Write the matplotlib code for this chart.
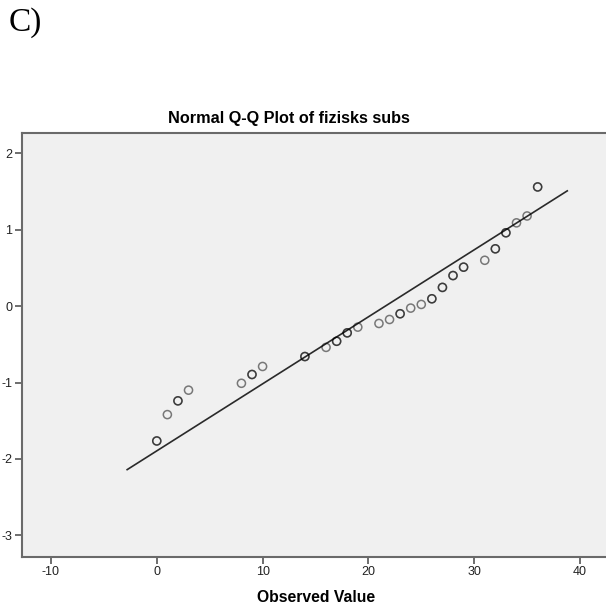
import numpy as np
import matplotlib
matplotlib.use("Agg")
import matplotlib.pyplot as plt

plt.rcParams["font.family"] = ["Liberation Sans", "DejaVu Sans"]
plt.rcParams["axes.unicode_minus"] = False

# observed scores, their expected normal values, and how many cases share each score
observed = [0, 1, 2, 3, 8, 9, 10, 14, 16, 17, 18, 19, 21, 22, 23, 24, 25, 26, 27, 28, 29, 31, 32, 33, 34, 35, 36]
expected = [-1.765, -1.42, -1.24, -1.10, -1.01, -0.895, -0.79, -0.66, -0.54, -0.46, -0.35, -0.275, -0.227,
            -0.175, -0.10, -0.026, 0.022, 0.096, 0.245, 0.40, 0.51, 0.60, 0.75, 0.96, 1.09, 1.18, 1.56]
counts = [2, 1, 2, 1, 1, 2, 1, 2, 1, 2, 2, 1, 1, 1, 2, 1, 1, 2, 2, 2, 2, 1, 2, 2, 1, 1, 2]

# reference line: standardised normal with the sample mean / sd
line_mean, line_sd = 21.6, 11.4
line_x = [-2.8, 38.8]

xticks = [-10, 0, 10, 20, 30, 40]
yticks = [-3, -2, -1, 0, 1, 2]

W, H = 606, 608
fig = plt.figure(figsize=(W / 100, H / 100), dpi=100)
fig.patch.set_facecolor("white")
ax = fig.add_axes([22 / W, 1 - 556.7 / H, (W - 22) / W, (556.7 - 132.7) / H])
ax.set_facecolor("#F0F0F0")

x = np.repeat(observed, counts)
y = np.repeat(expected, counts)
ax.scatter(x, y, s=34, facecolors="none", edgecolors="black", alpha=0.5, linewidths=1.1, zorder=3)

lx = np.array(line_x)
ax.plot(lx, (lx - line_mean) / line_sd, color="#2a2a2a", lw=1.2, zorder=2)

ax.set_xlim(-12.74, 42.46)
ax.set_ylim(-3.28, 2.27)
ax.set_xticks(xticks)
ax.set_yticks(yticks)
ax.tick_params(direction="out", length=5, width=1.2, color="#555555", labelsize=9, pad=2, labelcolor="#222222")
for side in ["left", "bottom", "top"]:
    ax.spines[side].set_color("#6a6a6a")
    ax.spines[side].set_linewidth(1.5)
ax.spines["right"].set_visible(False)

fig.text(289 / W, 1 - 119 / H, "Normal Q-Q Plot of fizisks subs", ha="center", va="center",
         fontsize=11.7, fontweight="bold")
fig.text(316 / W, 1 - 597 / H, "Observed Value", ha="center", va="center", fontsize=11.3, fontweight="bold")
fig.text(9 / W, 1 - 23 / H, "C)", ha="left", va="center", fontsize=24, family="Liberation Serif")

fig.savefig("out.png", dpi=100, facecolor="white")
